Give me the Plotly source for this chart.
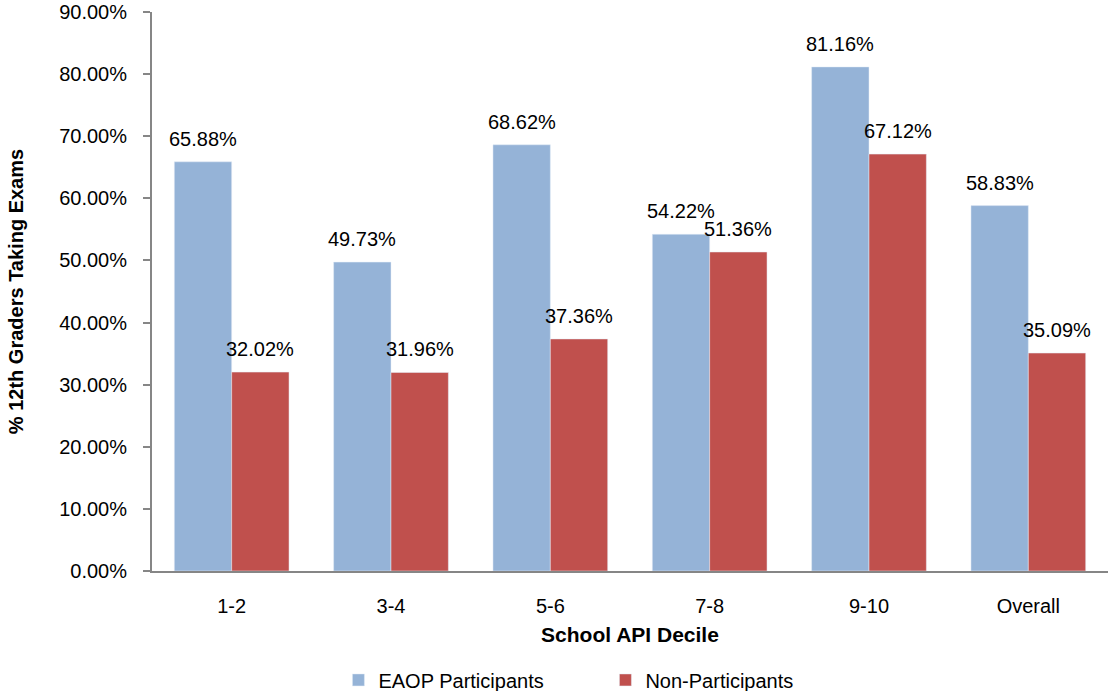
import plotly.graph_objects as go

categories = ["1-2", "3-4", "5-6", "7-8", "9-10", "Overall"]
eaop = [65.88, 49.73, 68.62, 54.22, 81.16, 58.83]
non_part = [32.02, 31.96, 37.36, 51.36, 67.12, 35.09]
y_ticks = [0, 10, 20, 30, 40, 50, 60, 70, 80, 90]

font = "Liberation Sans, Arial, sans-serif"
FS = 20

fig = go.Figure()
fig.add_bar(x=categories, y=eaop, name="EAOP Participants", marker_color="#95B3D7")
fig.add_bar(x=categories, y=non_part, name="Non-Participants", marker_color="#C0504D")

half = 28.7
for cat, v in zip(categories, eaop):
    fig.add_annotation(x=cat, y=v, text=f"{v:.2f}%", showarrow=False, xref="x", yref="y",
                       yanchor="bottom", xshift=-half, yshift=10,
                       font=dict(size=FS, color="#000000"))
for cat, v in zip(categories, non_part):
    fig.add_annotation(x=cat, y=v, text=f"{v:.2f}%", showarrow=False, xref="x", yref="y",
                       yanchor="bottom", xshift=half, yshift=10,
                       font=dict(size=FS, color="#000000"))

fig.update_layout(
    width=1108, height=691,
    margin=dict(l=152, r=0, t=12, b=120, autoexpand=False),
    barmode="group", bargap=0.28, bargroupgap=0,
    plot_bgcolor="white", paper_bgcolor="white",
    font=dict(family=font, size=FS, color="#000000"),
    showlegend=True,
    legend=dict(orientation="h", x=0.195, xanchor="left", y=0.016, yanchor="middle",
                yref="container",
                font=dict(size=FS), itemwidth=30, traceorder="normal",
                entrywidth=222, entrywidthmode="pixels"),
    xaxis=dict(
        showline=True, linecolor="#868686", linewidth=2,
        ticks="", tickfont=dict(size=FS), ticklabelstandoff=16,
        title=dict(text="<b>School API Decile</b>", font=dict(size=21), standoff=11),
    ),
    yaxis=dict(
        range=[0, 90], tickvals=y_ticks, ticktext=[f"{v:.2f}%" for v in y_ticks],
        showline=True, linecolor="#868686", linewidth=2,
        ticks="outside", ticklen=7, tickcolor="#868686", tickwidth=1.5,
        ticklabelstandoff=12,
        showgrid=False, zeroline=False, tickfont=dict(size=FS),
        title=dict(text="<b>% 12th Graders Taking Exams</b>", font=dict(size=20), standoff=30),
    ),
)

fig.write_html("out.html")
